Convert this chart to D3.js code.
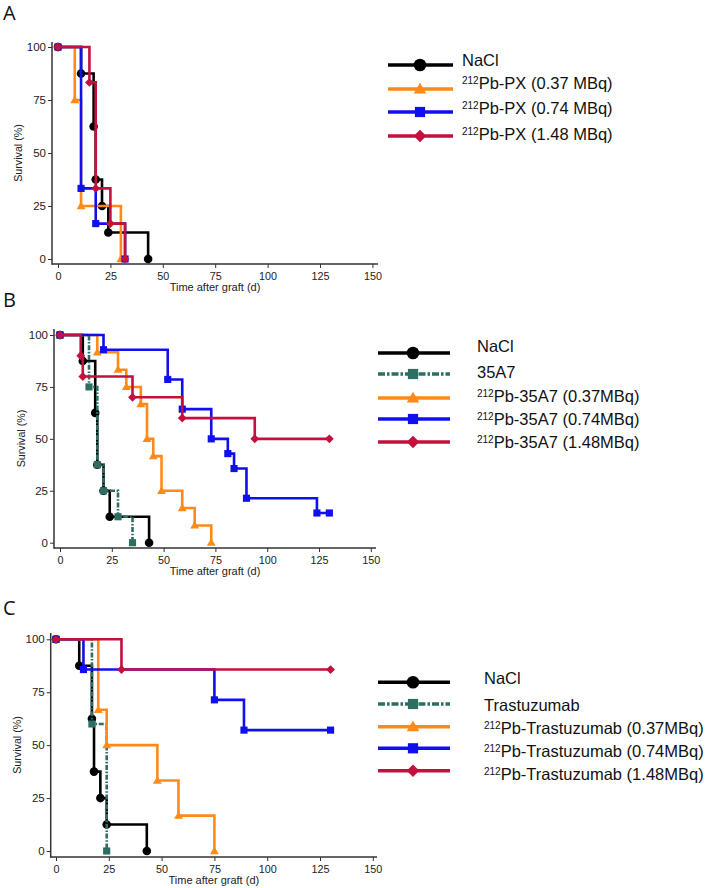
<!DOCTYPE html>
<html><head><meta charset="utf-8">
<script src="https://cdn.jsdelivr.net/npm/d3@7"></script>
<style>body{margin:0;background:#fff}svg{display:block}</style>
</head><body>
<svg id="c" width="710" height="888"></svg>
<script>
// ---------- DATA ----------
const xTicks = [0, 25, 50, 75, 100, 125, 150];
const yTicks = [0, 25, 50, 75, 100];
const xTitle = "Time after graft (d)";
const yTitle = "Survival (%)";
const panelLetters = ["A", "B", "C"];

// NaCl control (same in all panels)
const naclTime = [0, 11, 17, 18, 21, 24, 43];
const naclSurv = [100, 87.5, 62.5, 37.5, 25, 12.5, 0];

// Panel A: 212Pb-PX
const pxLowTime = [0, 8, 11, 30];
const pxLowSurv = [100, 75, 25, 0];
const pxMidTime = [0, 11, 18, 32];
const pxMidSurv = [100, 33.3, 16.7, 0];
const pxHighTime = [0, 15, 18, 25, 32];
const pxHighSurv = [100, 83.3, 33.3, 16.7, 0];
const labelsA = [["", "NaCl"], ["212", "Pb-PX (0.37 MBq)"], ["212", "Pb-PX (0.74 MBq)"], ["212", "Pb-PX (1.48 MBq)"]];

// Panel B: 35A7
const a35Time = [0, 14, 18, 21, 28, 35];
const a35Surv = [100, 75, 37.5, 25, 12.5, 0];
const pb35LowTime = [0, 18, 28, 32, 39, 42, 45, 49, 59, 65, 73];
const pb35LowSurv = [100, 91.7, 83.3, 75, 66.7, 50, 41.7, 25, 16.7, 8.3, 0];
const pb35MidTime = [0, 21, 52, 59, 73, 81, 84, 90, 124, 130];
const pb35MidSurv = [100, 92.9, 78.6, 64.3, 50, 42.9, 35.7, 21.4, 14.3, 14.3];
const pb35HighTime = [0, 10, 11, 35, 59, 94, 130];
const pb35HighSurv = [100, 90, 80, 70, 60, 50, 50];
const labelsB = [["", "NaCl"], ["", "35A7"], ["212", "Pb-35A7 (0.37MBq)"], ["212", "Pb-35A7 (0.74MBq)"], ["212", "Pb-35A7 (1.48MBq)"]];

// Panel C: Trastuzumab
const trasTime = [0, 17, 24];
const trasSurv = [100, 60, 0];
const pbTrLowTime = [0, 20, 24, 48, 58, 75];
const pbTrLowSurv = [100, 66.7, 50, 33.3, 16.7, 0];
const pbTrMidTime = [0, 13, 75, 89, 130];
const pbTrMidSurv = [100, 85.7, 71.4, 57.1, 57.1];
const pbTrHighTime = [0, 31, 130];
const pbTrHighSurv = [100, 85.7, 85.7];
const labelsC = [["", "NaCl"], ["", "Trastuzumab"], ["212", "Pb-Trastuzumab (0.37MBq)"], ["212", "Pb-Trastuzumab (0.74MBq)"], ["212", "Pb-Trastuzumab (1.48MBq)"]];

// ---------- STYLES ----------
const COL = { black: "#000000", teal: "#2e6e62", orange: "#ff8a1a", blue: "#1010ee", crimson: "#c4103e" };
const FONT = "'Liberation Sans', Arial, sans-serif";
const ST = {
  nacl: { color: COL.black, shape: "circle", dash: null },
  ctrl: { color: COL.teal, shape: "square", dash: "5,1.6,1.6,1.6" },
  low: { color: COL.orange, shape: "triangle", dash: null },
  mid: { color: COL.blue, shape: "square", dash: null },
  high: { color: COL.crimson, shape: "diamond", dash: null }
};
const zip = (t, s) => t.map((d, i) => [d, s[i]]);

const panels = [
  {
    letter: panelLetters[0], letterY: 20,
    x0: 58, x125: 320, y100: 47, y0: 259, axX: 52, axY: 264, axTop: 42, axRight: 378, yTitleX: 21.5,
    series: [
      [ST.nacl, zip(naclTime, naclSurv)],
      [ST.low, zip(pxLowTime, pxLowSurv)],
      [ST.mid, zip(pxMidTime, pxMidSurv)],
      [ST.high, zip(pxHighTime, pxHighSurv)]
    ],
    labels: labelsA,
    leg: { lx1: 388, lx2: 453, mx: 420, tx: 462, rows: [65, 89, 112, 136], base: [66, 88.5, 114, 140] }
  },
  {
    letter: panelLetters[1], letterY: 307,
    x0: 60, x125: 319, y100: 335, y0: 542.7, axX: 54, axY: 548, axTop: 329, axRight: 376, yTitleX: 25,
    series: [
      [ST.nacl, zip(naclTime, naclSurv)],
      [ST.ctrl, zip(a35Time, a35Surv)],
      [ST.low, zip(pb35LowTime, pb35LowSurv)],
      [ST.mid, zip(pb35MidTime, pb35MidSurv)],
      [ST.high, zip(pb35HighTime, pb35HighSurv)]
    ],
    labels: labelsB,
    leg: { lx1: 378, lx2: 450, mx: 413, tx: 477, rows: [353, 374, 398, 419, 442], base: [352, 378, 402, 425, 448] }
  },
  {
    letter: panelLetters[2], letterY: 615,
    x0: 56, x125: 320, y100: 639.3, y0: 851, axX: 50.7, axY: 857, axTop: 633, axRight: 377, yTitleX: 20.5,
    series: [
      [ST.nacl, zip(naclTime, naclSurv)],
      [ST.ctrl, zip(trasTime, trasSurv)],
      [ST.low, zip(pbTrLowTime, pbTrLowSurv)],
      [ST.mid, zip(pbTrMidTime, pbTrMidSurv)],
      [ST.high, zip(pbTrHighTime, pbTrHighSurv)]
    ],
    labels: labelsC,
    leg: { lx1: 378, lx2: 450, mx: 413, tx: 484, rows: [682.3, 704, 726.7, 748.3, 770.7], base: [684, 710.5, 734, 757, 780] }
  }
];

const svg = d3.select("#c");

function marker(g, shape, cx, cy, s, color) {
  if (shape === "circle") {
    g.append("circle").attr("cx", cx).attr("cy", cy).attr("r", s).attr("fill", color);
  } else if (shape === "square") {
    const h = s * 0.85;
    g.append("rect").attr("x", cx - h).attr("y", cy - h).attr("width", 2 * h).attr("height", 2 * h).attr("fill", color);
  } else if (shape === "triangle") {
    const w = s * 1.05;
    g.append("path").attr("d", `M${cx},${cy - s * 1.05}L${cx + w},${cy + s * 0.75}L${cx - w},${cy + s * 0.75}Z`).attr("fill", color);
  } else if (shape === "diamond") {
    const h = s * 1.05;
    g.append("path").attr("d", `M${cx},${cy - h}L${cx + h},${cy}L${cx},${cy + h}L${cx - h},${cy}Z`).attr("fill", color);
  }
}

panels.forEach(p => {
  const g = svg.append("g");
  const x = d3.scaleLinear().domain([0, 125]).range([p.x0, p.x125]);
  const y = d3.scaleLinear().domain([0, 100]).range([p.y0, p.y100]);

  // panel letter
  g.append("text").attr("x", 3).attr("y", p.letterY).text(p.letter)
    .attr("font-family", "'Open Sans', 'Liberation Sans', sans-serif").attr("font-size", 20).attr("fill", "#111");

  // axes
  const yAx = d3.axisLeft(y).tickValues(yTicks).tickSize(4).tickSizeOuter(0).tickPadding(2);
  const ya = g.append("g").attr("transform", `translate(${p.axX},0)`).call(yAx);
  ya.select(".domain").remove();
  ya.selectAll("line").attr("stroke", "#333").attr("stroke-width", 1);
  ya.selectAll("text").attr("font-family", FONT).attr("font-size", 11.5).attr("fill", "#222");

  const xAx = d3.axisBottom(x).tickValues(xTicks).tickSize(4).tickSizeOuter(0).tickPadding(4);
  const xa = g.append("g").attr("transform", `translate(0,${p.axY})`).call(xAx);
  xa.select(".domain").remove();
  xa.selectAll("line").attr("stroke", "#333").attr("stroke-width", 1);
  xa.selectAll("text").attr("font-family", FONT).attr("font-size", 10.8).attr("fill", "#222");

  g.append("line").attr("x1", p.axX).attr("x2", p.axX).attr("y1", p.axTop).attr("y2", p.axY + 0.75)
    .attr("stroke", "#333").attr("stroke-width", 1.5);
  g.append("line").attr("x1", p.axX).attr("x2", p.axRight).attr("y1", p.axY).attr("y2", p.axY)
    .attr("stroke", "#333").attr("stroke-width", 1.5);

  g.append("text").attr("x", (p.axX + p.axRight) / 2).attr("y", p.axY + 26.5).attr("text-anchor", "middle")
    .attr("font-family", FONT).attr("font-size", 11).attr("fill", "#222").text(xTitle);
  g.append("text").attr("transform", `translate(${p.yTitleX},${(p.axTop + p.axY) / 2}) rotate(-90)`)
    .attr("text-anchor", "middle").attr("font-family", FONT).attr("font-size", 10.7).attr("fill", "#222").text(yTitle);

  // curves
  const line = d3.line().x(d => x(d[0])).y(d => y(d[1])).curve(d3.curveStepAfter);
  p.series.forEach(([st, pts]) => {
    g.append("path").attr("d", line(pts)).attr("fill", "none").attr("stroke", st.color)
      .attr("stroke-width", 2.6).attr("stroke-dasharray", st.dash).attr("stroke-linejoin", "miter");
    pts.forEach(d => marker(g, st.shape, x(d[0]), y(d[1]), st.shape === "circle" ? 4.3 : 4.2, st.color));
  });

  // legend
  const L = p.leg;
  p.series.forEach(([st], i) => {
    const ly = L.rows[i];
    g.append("line").attr("x1", L.lx1).attr("x2", L.lx2).attr("y1", ly).attr("y2", ly)
      .attr("stroke", st.color).attr("stroke-width", 3.5).attr("stroke-dasharray", st.dash ? "7,2,2.5,2" : null);
    marker(g, st.shape, L.mx, ly, st.shape === "circle" ? 6.3 : 6, st.color);
    const t = g.append("text").attr("x", L.tx).attr("y", L.base[i]).attr("font-family", FONT).attr("fill", "#111");
    const [sup, main] = p.labels[i];
    if (sup) {
      t.append("tspan").attr("font-size", 10).attr("dy", -5).text(sup);
      t.append("tspan").attr("font-size", 16.5).attr("dy", 5).text(main);
    } else {
      t.append("tspan").attr("font-size", 16.5).text(main);
    }
  });
});
</script>
</body></html>
